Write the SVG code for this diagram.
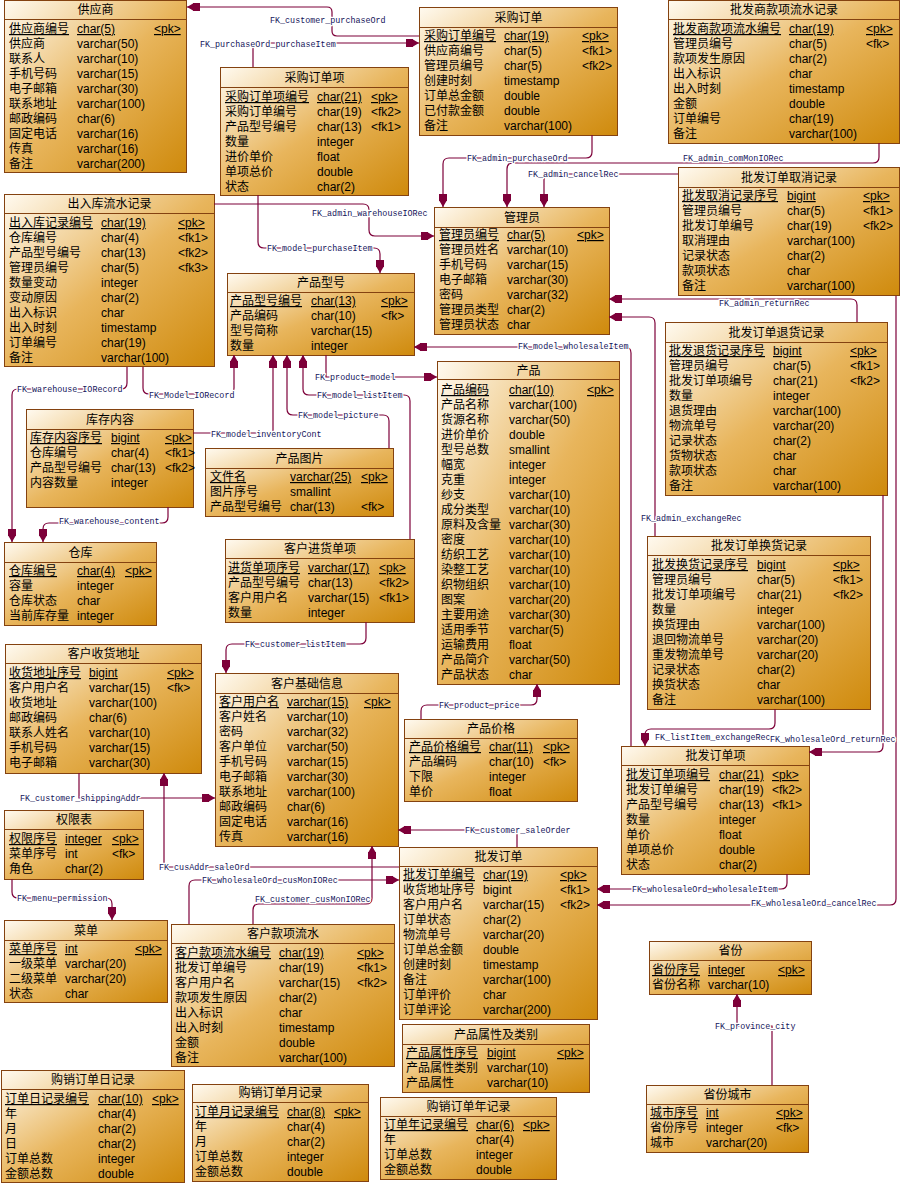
<svg xmlns="http://www.w3.org/2000/svg" width="901" height="1184" viewBox="0 0 901 1184">
<defs>
<linearGradient id="g" x1="0" y1="0" x2="1" y2="1"><stop offset="0" stop-color="#fffaf0"/><stop offset="0.5" stop-color="#e8b55c"/><stop offset="1" stop-color="#cf8a0c"/></linearGradient>
<marker id="a" markerWidth="15" markerHeight="10" viewBox="-14 -5 15 10" refX="0" refY="0" orient="auto" markerUnits="userSpaceOnUse"><path d="M0,0 L-6,-3.5 L-6,-4 L-13,-4 L-13,4 L-6,4 L-6,3.5 Z" fill="#7d0039"/></marker>
<style>
.b{fill:url(#g);stroke:#844210;stroke-width:1}
.s{stroke:#844210;stroke-width:1}
text{font-family:"Liberation Sans","Noto Sans CJK SC",sans-serif;font-size:12px;fill:#000}
.h{text-anchor:middle}
.u{text-decoration:underline}
.c{fill:none;stroke:#7d0039;stroke-width:1.2;marker-end:url(#a)}
.l{font-family:"Liberation Mono",monospace;font-size:8.4px;fill:#14145a;stroke:#fff;stroke-width:2.5px;paint-order:stroke;stroke-linejoin:round}
</style>
</defs>
<rect width="901" height="1184" fill="#fff"/>

<g id="t-gongyingshang">
<rect class="b" x="4.5" y="0.5" width="182" height="172"/><line class="s" x1="4.5" y1="19.5" x2="186.5" y2="19.5"/>
<text class="h" x="95.5" y="14">供应商</text>
<text class="u" y="33"><tspan x="9">供应商编号</tspan><tspan x="77">char(5)</tspan><tspan x="154">&lt;pk&gt;</tspan></text>
<text y="48"><tspan x="9">供应商</tspan><tspan x="77">varchar(50)</tspan></text>
<text y="63"><tspan x="9">联系人</tspan><tspan x="77">varchar(10)</tspan></text>
<text y="78"><tspan x="9">手机号码</tspan><tspan x="77">varchar(15)</tspan></text>
<text y="93"><tspan x="9">电子邮箱</tspan><tspan x="77">varchar(30)</tspan></text>
<text y="108"><tspan x="9">联系地址</tspan><tspan x="77">varchar(100)</tspan></text>
<text y="123"><tspan x="9">邮政编码</tspan><tspan x="77">char(6)</tspan></text>
<text y="138"><tspan x="9">固定电话</tspan><tspan x="77">varchar(16)</tspan></text>
<text y="153"><tspan x="9">传真</tspan><tspan x="77">varchar(16)</tspan></text>
<text y="168"><tspan x="9">备注</tspan><tspan x="77">varchar(200)</tspan></text>
</g>

<g id="t-caigoudingdan">
<rect class="b" x="419.5" y="7.5" width="198" height="128"/><line class="s" x1="419.5" y1="27.5" x2="617.5" y2="27.5"/>
<text class="h" x="518.5" y="22">采购订单</text>
<text class="u" y="40"><tspan x="424">采购订单编号</tspan><tspan x="504">char(19)</tspan><tspan x="582">&lt;pk&gt;</tspan></text>
<text y="55"><tspan x="424">供应商编号</tspan><tspan x="504">char(5)</tspan><tspan x="582">&lt;fk1&gt;</tspan></text>
<text y="70"><tspan x="424">管理员编号</tspan><tspan x="504">char(5)</tspan><tspan x="582">&lt;fk2&gt;</tspan></text>
<text y="85"><tspan x="424">创建时刻</tspan><tspan x="504">timestamp</tspan></text>
<text y="100"><tspan x="424">订单总金额</tspan><tspan x="504">double</tspan></text>
<text y="115"><tspan x="424">已付款金额</tspan><tspan x="504">double</tspan></text>
<text y="130"><tspan x="424">备注</tspan><tspan x="504">varchar(100)</tspan></text>
</g>

<g id="t-caigoudingdanxiang">
<rect class="b" x="220.5" y="67.5" width="188" height="128"/><line class="s" x1="220.5" y1="87.5" x2="408.5" y2="87.5"/>
<text class="h" x="314.5" y="82">采购订单项</text>
<text class="u" y="101"><tspan x="225">采购订单项编号</tspan><tspan x="317">char(21)</tspan><tspan x="371">&lt;pk&gt;</tspan></text>
<text y="116"><tspan x="225">采购订单编号</tspan><tspan x="317">char(19)</tspan><tspan x="371">&lt;fk2&gt;</tspan></text>
<text y="131"><tspan x="225">产品型号编号</tspan><tspan x="317">char(13)</tspan><tspan x="371">&lt;fk1&gt;</tspan></text>
<text y="146"><tspan x="225">数量</tspan><tspan x="317">integer</tspan></text>
<text y="161"><tspan x="225">进价单价</tspan><tspan x="317">float</tspan></text>
<text y="176"><tspan x="225">单项总价</tspan><tspan x="317">double</tspan></text>
<text y="191"><tspan x="225">状态</tspan><tspan x="317">char(2)</tspan></text>
</g>

<g id="t-pifashangkuanxiang">
<rect class="b" x="668.5" y="0.5" width="231" height="143"/><line class="s" x1="668.5" y1="19.5" x2="899.5" y2="19.5"/>
<text class="h" x="784" y="14">批发商款项流水记录</text>
<text class="u" y="33"><tspan x="673">批发商款项流水编号</tspan><tspan x="789">char(19)</tspan><tspan x="866">&lt;pk&gt;</tspan></text>
<text y="48"><tspan x="673">管理员编号</tspan><tspan x="789">char(5)</tspan><tspan x="866">&lt;fk&gt;</tspan></text>
<text y="63"><tspan x="673">款项发生原因</tspan><tspan x="789">char(2)</tspan></text>
<text y="78"><tspan x="673">出入标识</tspan><tspan x="789">char</tspan></text>
<text y="93"><tspan x="673">出入时刻</tspan><tspan x="789">timestamp</tspan></text>
<text y="108"><tspan x="673">金额</tspan><tspan x="789">double</tspan></text>
<text y="123"><tspan x="673">订单编号</tspan><tspan x="789">char(19)</tspan></text>
<text y="138"><tspan x="673">备注</tspan><tspan x="789">varchar(100)</tspan></text>
</g>

<g id="t-quxiaojilu">
<rect class="b" x="678.5" y="167.5" width="221" height="128"/><line class="s" x1="678.5" y1="187.5" x2="899.5" y2="187.5"/>
<text class="h" x="789" y="182">批发订单取消记录</text>
<text class="u" y="200"><tspan x="682">批发取消记录序号</tspan><tspan x="787">bigint</tspan><tspan x="863">&lt;pk&gt;</tspan></text>
<text y="215"><tspan x="682">管理员编号</tspan><tspan x="787">char(5)</tspan><tspan x="863">&lt;fk1&gt;</tspan></text>
<text y="230"><tspan x="682">批发订单编号</tspan><tspan x="787">char(19)</tspan><tspan x="863">&lt;fk2&gt;</tspan></text>
<text y="245"><tspan x="682">取消理由</tspan><tspan x="787">varchar(100)</tspan></text>
<text y="260"><tspan x="682">记录状态</tspan><tspan x="787">char(2)</tspan></text>
<text y="275"><tspan x="682">款项状态</tspan><tspan x="787">char</tspan></text>
<text y="290"><tspan x="682">备注</tspan><tspan x="787">varchar(100)</tspan></text>
</g>

<g id="t-churuku">
<rect class="b" x="4.5" y="194.5" width="210" height="172"/><line class="s" x1="4.5" y1="213.5" x2="214.5" y2="213.5"/>
<text class="h" x="109.5" y="208">出入库流水记录</text>
<text class="u" y="227"><tspan x="9">出入库记录编号</tspan><tspan x="101">char(19)</tspan><tspan x="178">&lt;pk&gt;</tspan></text>
<text y="242"><tspan x="9">仓库编号</tspan><tspan x="101">char(4)</tspan><tspan x="178">&lt;fk1&gt;</tspan></text>
<text y="257"><tspan x="9">产品型号编号</tspan><tspan x="101">char(13)</tspan><tspan x="178">&lt;fk2&gt;</tspan></text>
<text y="272"><tspan x="9">管理员编号</tspan><tspan x="101">char(5)</tspan><tspan x="178">&lt;fk3&gt;</tspan></text>
<text y="287"><tspan x="9">数量变动</tspan><tspan x="101">integer</tspan></text>
<text y="302"><tspan x="9">变动原因</tspan><tspan x="101">char(2)</tspan></text>
<text y="317"><tspan x="9">出入标识</tspan><tspan x="101">char</tspan></text>
<text y="332"><tspan x="9">出入时刻</tspan><tspan x="101">timestamp</tspan></text>
<text y="347"><tspan x="9">订单编号</tspan><tspan x="101">char(19)</tspan></text>
<text y="362"><tspan x="9">备注</tspan><tspan x="101">varchar(100)</tspan></text>
</g>

<g id="t-guanliyuan">
<rect class="b" x="434.5" y="207.5" width="175" height="127"/><line class="s" x1="434.5" y1="227.5" x2="609.5" y2="227.5"/>
<text class="h" x="522" y="222">管理员</text>
<text class="u" y="239"><tspan x="439">管理员编号</tspan><tspan x="507">char(5)</tspan><tspan x="577">&lt;pk&gt;</tspan></text>
<text y="254"><tspan x="439">管理员姓名</tspan><tspan x="507">varchar(10)</tspan></text>
<text y="269"><tspan x="439">手机号码</tspan><tspan x="507">varchar(15)</tspan></text>
<text y="284"><tspan x="439">电子邮箱</tspan><tspan x="507">varchar(30)</tspan></text>
<text y="299"><tspan x="439">密码</tspan><tspan x="507">varchar(32)</tspan></text>
<text y="314"><tspan x="439">管理员类型</tspan><tspan x="507">char(2)</tspan></text>
<text y="329"><tspan x="439">管理员状态</tspan><tspan x="507">char</tspan></text>
</g>

<g id="t-chanpinxinghao">
<rect class="b" x="227.5" y="273.5" width="187" height="82"/><line class="s" x1="227.5" y1="292.5" x2="414.5" y2="292.5"/>
<text class="h" x="321" y="287">产品型号</text>
<text class="u" y="305"><tspan x="230">产品型号编号</tspan><tspan x="311">char(13)</tspan><tspan x="381">&lt;pk&gt;</tspan></text>
<text y="320"><tspan x="230">产品编码</tspan><tspan x="311">char(10)</tspan><tspan x="381">&lt;fk&gt;</tspan></text>
<text y="335"><tspan x="230">型号简称</tspan><tspan x="311">varchar(15)</tspan></text>
<text y="350"><tspan x="230">数量</tspan><tspan x="311">integer</tspan></text>
</g>

<g id="t-chanpin">
<rect class="b" x="437.5" y="361.5" width="182" height="323"/><line class="s" x1="437.5" y1="379.5" x2="619.5" y2="379.5"/>
<text class="h" x="528.5" y="375">产品</text>
<text class="u" y="394"><tspan x="441">产品编码</tspan><tspan x="509">char(10)</tspan><tspan x="587">&lt;pk&gt;</tspan></text>
<text y="409"><tspan x="441">产品名称</tspan><tspan x="509">varchar(100)</tspan></text>
<text y="424"><tspan x="441">货源名称</tspan><tspan x="509">varchar(50)</tspan></text>
<text y="439"><tspan x="441">进价单价</tspan><tspan x="509">double</tspan></text>
<text y="454"><tspan x="441">型号总数</tspan><tspan x="509">smallint</tspan></text>
<text y="469"><tspan x="441">幅宽</tspan><tspan x="509">integer</tspan></text>
<text y="484"><tspan x="441">克重</tspan><tspan x="509">integer</tspan></text>
<text y="499"><tspan x="441">纱支</tspan><tspan x="509">varchar(10)</tspan></text>
<text y="514"><tspan x="441">成分类型</tspan><tspan x="509">varchar(10)</tspan></text>
<text y="529"><tspan x="441">原料及含量</tspan><tspan x="509">varchar(30)</tspan></text>
<text y="544"><tspan x="441">密度</tspan><tspan x="509">varchar(10)</tspan></text>
<text y="559"><tspan x="441">纺织工艺</tspan><tspan x="509">varchar(10)</tspan></text>
<text y="574"><tspan x="441">染整工艺</tspan><tspan x="509">varchar(10)</tspan></text>
<text y="589"><tspan x="441">织物组织</tspan><tspan x="509">varchar(10)</tspan></text>
<text y="604"><tspan x="441">图案</tspan><tspan x="509">varchar(20)</tspan></text>
<text y="619"><tspan x="441">主要用途</tspan><tspan x="509">varchar(30)</tspan></text>
<text y="634"><tspan x="441">适用季节</tspan><tspan x="509">varchar(5)</tspan></text>
<text y="649"><tspan x="441">运输费用</tspan><tspan x="509">float</tspan></text>
<text y="664"><tspan x="441">产品简介</tspan><tspan x="509">varchar(50)</tspan></text>
<text y="679"><tspan x="441">产品状态</tspan><tspan x="509">char</tspan></text>
</g>

<g id="t-kucun">
<rect class="b" x="26.5" y="409.5" width="167" height="98"/><line class="s" x1="26.5" y1="429.5" x2="193.5" y2="429.5"/>
<text class="h" x="110" y="424">库存内容</text>
<text class="u" y="442"><tspan x="30">库存内容序号</tspan><tspan x="111">bigint</tspan><tspan x="165">&lt;pk&gt;</tspan></text>
<text y="457"><tspan x="30">仓库编号</tspan><tspan x="111">char(4)</tspan><tspan x="165">&lt;fk1&gt;</tspan></text>
<text y="472"><tspan x="30">产品型号编号</tspan><tspan x="111">char(13)</tspan><tspan x="165">&lt;fk2&gt;</tspan></text>
<text y="487"><tspan x="30">内容数量</tspan><tspan x="111">integer</tspan></text>
</g>

<g id="t-tupian">
<rect class="b" x="205.5" y="448.5" width="188" height="68"/><line class="s" x1="205.5" y1="468.5" x2="393.5" y2="468.5"/>
<text class="h" x="299.5" y="463">产品图片</text>
<text class="u" y="481"><tspan x="210">文件名</tspan><tspan x="290">varchar(25)</tspan><tspan x="361">&lt;pk&gt;</tspan></text>
<text y="496"><tspan x="210">图片序号</tspan><tspan x="290">smallint</tspan></text>
<text y="511"><tspan x="210">产品型号编号</tspan><tspan x="290">char(13)</tspan><tspan x="361">&lt;fk&gt;</tspan></text>
</g>

<g id="t-cangku">
<rect class="b" x="4.5" y="542.5" width="152" height="83"/><line class="s" x1="4.5" y1="562.5" x2="156.5" y2="562.5"/>
<text class="h" x="80.5" y="557">仓库</text>
<text class="u" y="575"><tspan x="9">仓库编号</tspan><tspan x="77">char(4)</tspan><tspan x="125">&lt;pk&gt;</tspan></text>
<text y="590"><tspan x="9">容量</tspan><tspan x="77">integer</tspan></text>
<text y="605"><tspan x="9">仓库状态</tspan><tspan x="77">char</tspan></text>
<text y="620"><tspan x="9">当前库存量</tspan><tspan x="77">integer</tspan></text>
</g>

<g id="t-jinhuodanxiang">
<rect class="b" x="225.5" y="539.5" width="189" height="83"/><line class="s" x1="225.5" y1="558.5" x2="414.5" y2="558.5"/>
<text class="h" x="320" y="553">客户进货单项</text>
<text class="u" y="572"><tspan x="228">进货单项序号</tspan><tspan x="308">varchar(17)</tspan><tspan x="379">&lt;pk&gt;</tspan></text>
<text y="587"><tspan x="228">产品型号编号</tspan><tspan x="308">char(13)</tspan><tspan x="379">&lt;fk2&gt;</tspan></text>
<text y="602"><tspan x="228">客户用户名</tspan><tspan x="308">varchar(15)</tspan><tspan x="379">&lt;fk1&gt;</tspan></text>
<text y="617"><tspan x="228">数量</tspan><tspan x="308">integer</tspan></text>
</g>

<g id="t-tuihuojilu">
<rect class="b" x="665.5" y="322.5" width="222" height="173"/><line class="s" x1="665.5" y1="342.5" x2="887.5" y2="342.5"/>
<text class="h" x="776.5" y="337">批发订单退货记录</text>
<text class="u" y="355"><tspan x="669">批发退货记录序号</tspan><tspan x="773">bigint</tspan><tspan x="850">&lt;pk&gt;</tspan></text>
<text y="370"><tspan x="669">管理员编号</tspan><tspan x="773">char(5)</tspan><tspan x="850">&lt;fk1&gt;</tspan></text>
<text y="385"><tspan x="669">批发订单项编号</tspan><tspan x="773">char(21)</tspan><tspan x="850">&lt;fk2&gt;</tspan></text>
<text y="400"><tspan x="669">数量</tspan><tspan x="773">integer</tspan></text>
<text y="415"><tspan x="669">退货理由</tspan><tspan x="773">varchar(100)</tspan></text>
<text y="430"><tspan x="669">物流单号</tspan><tspan x="773">varchar(20)</tspan></text>
<text y="445"><tspan x="669">记录状态</tspan><tspan x="773">char(2)</tspan></text>
<text y="460"><tspan x="669">货物状态</tspan><tspan x="773">char</tspan></text>
<text y="475"><tspan x="669">款项状态</tspan><tspan x="773">char</tspan></text>
<text y="490"><tspan x="669">备注</tspan><tspan x="773">varchar(100)</tspan></text>
</g>

<g id="t-huanhuojilu">
<rect class="b" x="647.5" y="536.5" width="223" height="173"/><line class="s" x1="647.5" y1="555.5" x2="870.5" y2="555.5"/>
<text class="h" x="759" y="550">批发订单换货记录</text>
<text class="u" y="569"><tspan x="652">批发换货记录序号</tspan><tspan x="757">bigint</tspan><tspan x="833">&lt;pk&gt;</tspan></text>
<text y="584"><tspan x="652">管理员编号</tspan><tspan x="757">char(5)</tspan><tspan x="833">&lt;fk1&gt;</tspan></text>
<text y="599"><tspan x="652">批发订单项编号</tspan><tspan x="757">char(21)</tspan><tspan x="833">&lt;fk2&gt;</tspan></text>
<text y="614"><tspan x="652">数量</tspan><tspan x="757">integer</tspan></text>
<text y="629"><tspan x="652">换货理由</tspan><tspan x="757">varchar(100)</tspan></text>
<text y="644"><tspan x="652">退回物流单号</tspan><tspan x="757">varchar(20)</tspan></text>
<text y="659"><tspan x="652">重发物流单号</tspan><tspan x="757">varchar(20)</tspan></text>
<text y="674"><tspan x="652">记录状态</tspan><tspan x="757">char(2)</tspan></text>
<text y="689"><tspan x="652">换货状态</tspan><tspan x="757">char</tspan></text>
<text y="704"><tspan x="652">备注</tspan><tspan x="757">varchar(100)</tspan></text>
</g>

<g id="t-shouhuodizhi">
<rect class="b" x="5.5" y="644.5" width="196" height="129"/><line class="s" x1="5.5" y1="663.5" x2="201.5" y2="663.5"/>
<text class="h" x="103.5" y="658">客户收货地址</text>
<text class="u" y="677"><tspan x="9">收货地址序号</tspan><tspan x="89">bigint</tspan><tspan x="167">&lt;pk&gt;</tspan></text>
<text y="692"><tspan x="9">客户用户名</tspan><tspan x="89">varchar(15)</tspan><tspan x="167">&lt;fk&gt;</tspan></text>
<text y="707"><tspan x="9">收货地址</tspan><tspan x="89">varchar(100)</tspan></text>
<text y="722"><tspan x="9">邮政编码</tspan><tspan x="89">char(6)</tspan></text>
<text y="737"><tspan x="9">联系人姓名</tspan><tspan x="89">varchar(10)</tspan></text>
<text y="752"><tspan x="9">手机号码</tspan><tspan x="89">varchar(15)</tspan></text>
<text y="767"><tspan x="9">电子邮箱</tspan><tspan x="89">varchar(30)</tspan></text>
</g>

<g id="t-kehu">
<rect class="b" x="215.5" y="673.5" width="183" height="173"/><line class="s" x1="215.5" y1="693.5" x2="398.5" y2="693.5"/>
<text class="h" x="307" y="688">客户基础信息</text>
<text class="u" y="706"><tspan x="219">客户用户名</tspan><tspan x="287">varchar(15)</tspan><tspan x="364">&lt;pk&gt;</tspan></text>
<text y="721"><tspan x="219">客户姓名</tspan><tspan x="287">varchar(10)</tspan></text>
<text y="736"><tspan x="219">密码</tspan><tspan x="287">varchar(32)</tspan></text>
<text y="751"><tspan x="219">客户单位</tspan><tspan x="287">varchar(50)</tspan></text>
<text y="766"><tspan x="219">手机号码</tspan><tspan x="287">varchar(15)</tspan></text>
<text y="781"><tspan x="219">电子邮箱</tspan><tspan x="287">varchar(30)</tspan></text>
<text y="796"><tspan x="219">联系地址</tspan><tspan x="287">varchar(100)</tspan></text>
<text y="811"><tspan x="219">邮政编码</tspan><tspan x="287">char(6)</tspan></text>
<text y="826"><tspan x="219">固定电话</tspan><tspan x="287">varchar(16)</tspan></text>
<text y="841"><tspan x="219">传真</tspan><tspan x="287">varchar(16)</tspan></text>
</g>

<g id="t-jiage">
<rect class="b" x="404.5" y="719.5" width="173" height="82"/><line class="s" x1="404.5" y1="738.5" x2="577.5" y2="738.5"/>
<text class="h" x="491" y="733">产品价格</text>
<text class="u" y="751"><tspan x="409">产品价格编号</tspan><tspan x="489">char(11)</tspan><tspan x="543">&lt;pk&gt;</tspan></text>
<text y="766"><tspan x="409">产品编码</tspan><tspan x="489">char(10)</tspan><tspan x="543">&lt;fk&gt;</tspan></text>
<text y="781"><tspan x="409">下限</tspan><tspan x="489">integer</tspan></text>
<text y="796"><tspan x="409">单价</tspan><tspan x="489">float</tspan></text>
</g>

<g id="t-pifadingdanxiang">
<rect class="b" x="621.5" y="746.5" width="188" height="128"/><line class="s" x1="621.5" y1="765.5" x2="809.5" y2="765.5"/>
<text class="h" x="715.5" y="760">批发订单项</text>
<text class="u" y="779"><tspan x="626">批发订单项编号</tspan><tspan x="719">char(21)</tspan><tspan x="772">&lt;pk&gt;</tspan></text>
<text y="794"><tspan x="626">批发订单编号</tspan><tspan x="719">char(19)</tspan><tspan x="772">&lt;fk2&gt;</tspan></text>
<text y="809"><tspan x="626">产品型号编号</tspan><tspan x="719">char(13)</tspan><tspan x="772">&lt;fk1&gt;</tspan></text>
<text y="824"><tspan x="626">数量</tspan><tspan x="719">integer</tspan></text>
<text y="839"><tspan x="626">单价</tspan><tspan x="719">float</tspan></text>
<text y="854"><tspan x="626">单项总价</tspan><tspan x="719">double</tspan></text>
<text y="869"><tspan x="626">状态</tspan><tspan x="719">char(2)</tspan></text>
</g>

<g id="t-quanxian">
<rect class="b" x="4.5" y="810.5" width="139" height="69"/><line class="s" x1="4.5" y1="829.5" x2="143.5" y2="829.5"/>
<text class="h" x="74" y="824">权限表</text>
<text class="u" y="843"><tspan x="9">权限序号</tspan><tspan x="65">integer</tspan><tspan x="112">&lt;pk&gt;</tspan></text>
<text y="858"><tspan x="9">菜单序号</tspan><tspan x="65">int</tspan><tspan x="112">&lt;fk&gt;</tspan></text>
<text y="873"><tspan x="9">角色</tspan><tspan x="65">char(2)</tspan></text>
</g>

<g id="t-pifadingdan">
<rect class="b" x="399.5" y="847.5" width="198" height="172"/><line class="s" x1="399.5" y1="866.5" x2="597.5" y2="866.5"/>
<text class="h" x="498.5" y="861">批发订单</text>
<text class="u" y="879"><tspan x="403">批发订单编号</tspan><tspan x="483">char(19)</tspan><tspan x="560">&lt;pk&gt;</tspan></text>
<text y="894"><tspan x="403">收货地址序号</tspan><tspan x="483">bigint</tspan><tspan x="560">&lt;fk1&gt;</tspan></text>
<text y="909"><tspan x="403">客户用户名</tspan><tspan x="483">varchar(15)</tspan><tspan x="560">&lt;fk2&gt;</tspan></text>
<text y="924"><tspan x="403">订单状态</tspan><tspan x="483">char(2)</tspan></text>
<text y="939"><tspan x="403">物流单号</tspan><tspan x="483">varchar(20)</tspan></text>
<text y="954"><tspan x="403">订单总金额</tspan><tspan x="483">double</tspan></text>
<text y="969"><tspan x="403">创建时刻</tspan><tspan x="483">timestamp</tspan></text>
<text y="984"><tspan x="403">备注</tspan><tspan x="483">varchar(100)</tspan></text>
<text y="999"><tspan x="403">订单评价</tspan><tspan x="483">char</tspan></text>
<text y="1014"><tspan x="403">订单评论</tspan><tspan x="483">varchar(200)</tspan></text>
</g>

<g id="t-caidan">
<rect class="b" x="4.5" y="920.5" width="163" height="82"/><line class="s" x1="4.5" y1="940.5" x2="167.5" y2="940.5"/>
<text class="h" x="86" y="935">菜单</text>
<text class="u" y="953"><tspan x="9">菜单序号</tspan><tspan x="65">int</tspan><tspan x="135">&lt;pk&gt;</tspan></text>
<text y="968"><tspan x="9">一级菜单</tspan><tspan x="65">varchar(20)</tspan></text>
<text y="983"><tspan x="9">二级菜单</tspan><tspan x="65">varchar(20)</tspan></text>
<text y="998"><tspan x="9">状态</tspan><tspan x="65">char</tspan></text>
</g>

<g id="t-kehukuanxiang">
<rect class="b" x="171.5" y="924.5" width="223" height="142"/><line class="s" x1="171.5" y1="943.5" x2="394.5" y2="943.5"/>
<text class="h" x="283" y="938">客户款项流水</text>
<text class="u" y="957"><tspan x="175">客户款项流水编号</tspan><tspan x="279">char(19)</tspan><tspan x="357">&lt;pk&gt;</tspan></text>
<text y="972"><tspan x="175">批发订单编号</tspan><tspan x="279">char(19)</tspan><tspan x="357">&lt;fk1&gt;</tspan></text>
<text y="987"><tspan x="175">客户用户名</tspan><tspan x="279">varchar(15)</tspan><tspan x="357">&lt;fk2&gt;</tspan></text>
<text y="1002"><tspan x="175">款项发生原因</tspan><tspan x="279">char(2)</tspan></text>
<text y="1017"><tspan x="175">出入标识</tspan><tspan x="279">char</tspan></text>
<text y="1032"><tspan x="175">出入时刻</tspan><tspan x="279">timestamp</tspan></text>
<text y="1047"><tspan x="175">金额</tspan><tspan x="279">double</tspan></text>
<text y="1062"><tspan x="175">备注</tspan><tspan x="279">varchar(100)</tspan></text>
</g>

<g id="t-shuxing">
<rect class="b" x="402.5" y="1024.5" width="187" height="68"/><line class="s" x1="402.5" y1="1044.5" x2="589.5" y2="1044.5"/>
<text class="h" x="496" y="1039">产品属性及类别</text>
<text class="u" y="1057"><tspan x="406">产品属性序号</tspan><tspan x="487">bigint</tspan><tspan x="557">&lt;pk&gt;</tspan></text>
<text y="1072"><tspan x="406">产品属性类别</tspan><tspan x="487">varchar(10)</tspan></text>
<text y="1087"><tspan x="406">产品属性</tspan><tspan x="487">varchar(10)</tspan></text>
</g>

<g id="t-rijilu">
<rect class="b" x="1.5" y="1070.5" width="183" height="112"/><line class="s" x1="1.5" y1="1089.5" x2="184.5" y2="1089.5"/>
<text class="h" x="93" y="1084">购销订单日记录</text>
<text class="u" y="1103"><tspan x="5">订单日记录编号</tspan><tspan x="98">char(10)</tspan><tspan x="152">&lt;pk&gt;</tspan></text>
<text y="1118"><tspan x="5">年</tspan><tspan x="98">char(4)</tspan></text>
<text y="1133"><tspan x="5">月</tspan><tspan x="98">char(2)</tspan></text>
<text y="1148"><tspan x="5">日</tspan><tspan x="98">char(2)</tspan></text>
<text y="1163"><tspan x="5">订单总数</tspan><tspan x="98">integer</tspan></text>
<text y="1178"><tspan x="5">金额总数</tspan><tspan x="98">double</tspan></text>
</g>

<g id="t-yuejilu">
<rect class="b" x="192.5" y="1084.5" width="176" height="97"/><line class="s" x1="192.5" y1="1102.5" x2="368.5" y2="1102.5"/>
<text class="h" x="280.5" y="1097">购销订单月记录</text>
<text class="u" y="1116"><tspan x="195">订单月记录编号</tspan><tspan x="287">char(8)</tspan><tspan x="334">&lt;pk&gt;</tspan></text>
<text y="1131"><tspan x="195">年</tspan><tspan x="287">char(4)</tspan></text>
<text y="1146"><tspan x="195">月</tspan><tspan x="287">char(2)</tspan></text>
<text y="1161"><tspan x="195">订单总数</tspan><tspan x="287">integer</tspan></text>
<text y="1176"><tspan x="195">金额总数</tspan><tspan x="287">double</tspan></text>
</g>

<g id="t-nianjilu">
<rect class="b" x="380.5" y="1097.5" width="176" height="82"/><line class="s" x1="380.5" y1="1116.5" x2="556.5" y2="1116.5"/>
<text class="h" x="468.5" y="1111">购销订单年记录</text>
<text class="u" y="1129"><tspan x="384">订单年记录编号</tspan><tspan x="476">char(6)</tspan><tspan x="523">&lt;pk&gt;</tspan></text>
<text y="1144"><tspan x="384">年</tspan><tspan x="476">char(4)</tspan></text>
<text y="1159"><tspan x="384">订单总数</tspan><tspan x="476">integer</tspan></text>
<text y="1174"><tspan x="384">金额总数</tspan><tspan x="476">double</tspan></text>
</g>

<g id="t-shengfen">
<rect class="b" x="649.5" y="941.5" width="162" height="53"/><line class="s" x1="649.5" y1="960.5" x2="811.5" y2="960.5"/>
<text class="h" x="730.5" y="955">省份</text>
<text class="u" y="974"><tspan x="652">省份序号</tspan><tspan x="708">integer</tspan><tspan x="778">&lt;pk&gt;</tspan></text>
<text y="989"><tspan x="652">省份名称</tspan><tspan x="708">varchar(10)</tspan></text>
</g>

<g id="t-chengshi">
<rect class="b" x="646.5" y="1085.5" width="162" height="67"/><line class="s" x1="646.5" y1="1104.5" x2="808.5" y2="1104.5"/>
<text class="h" x="727.5" y="1099">省份城市</text>
<text class="u" y="1117"><tspan x="650">城市序号</tspan><tspan x="706">int</tspan><tspan x="776">&lt;pk&gt;</tspan></text>
<text y="1132"><tspan x="650">省份序号</tspan><tspan x="706">integer</tspan><tspan x="776">&lt;fk&gt;</tspan></text>
<text y="1147"><tspan x="650">城市</tspan><tspan x="706">varchar(20)</tspan></text>
</g>

<g id="connectors">
<path class="c" d="M419,36 H337 Q332,36 332,31 V12 Q332,7 327,7 H187"/>
<path class="c" d="M253,67 V43 H419"/>
<path class="c" d="M592,135 V152 Q592,158 586,158 H449 Q443,158 443,164 V207"/>
<path class="c" d="M678,174 H550 Q544,174 544,180 V207"/>
<path class="c" d="M879,143 V157 Q879,163 873,163 H513 Q507,163 507,169 V207"/>
<path class="c" d="M214,204 H363 Q369,204 369,210 V230 Q369,236 375,236 H434"/>
<path class="c" d="M258,195 V242 Q258,248 264,248 H374 Q380,248 380,254 V273"/>
<path class="c" d="M127,367 V383 Q127,389 121,389 H18 Q12,389 12,395 V542"/>
<path class="c" d="M143,367 V388 Q143,394 149,394 H228 Q234,394 234,388 V355"/>
<path class="c" d="M193,433 H273 V355"/>
<path class="c" d="M389,448 V421 Q389,415 383,415 H293 Q287,415 287,409 V355"/>
<path class="c" d="M410,539 V401 Q410,395 404,395 H309 Q303,395 303,389 V355"/>
<path class="c" d="M326,355 V377 H437"/>
<path class="c" d="M631,746 V353 Q631,347 625,347 H414"/>
<path class="c" d="M857,322 V305 Q857,299 851,299 H609"/>
<path class="c" d="M655,536 V323 Q655,317 649,317 H609"/>
<path class="c" d="M168,507 V517 Q168,523 162,523 H49 Q43,523 43,529 V542"/>
<path class="c" d="M366,622 V638 Q366,644 360,644 H232 Q226,644 226,650 V673"/>
<path class="c" d="M79,773 V798 H215"/>
<path class="c" d="M399,867 H164 V773"/>
<path class="c" d="M189,924 V886 Q189,880 195,880 H399"/>
<path class="c" d="M253,924 V910 Q253,904 259,904 H366 Q372,904 372,898 V846"/>
<path class="c" d="M517,847 V830 H398"/>
<path class="c" d="M421,719 V711 Q421,705 427,705 H531 Q537,705 537,699 V684"/>
<path class="c" d="M775,709 V723 Q775,729 769,729 H651 Q645,729 645,735 V746"/>
<path class="c" d="M883,495 V746 Q883,752 877,752 H809"/>
<path class="c" d="M787,874 V883 Q787,889 781,889 H597"/>
<path class="c" d="M896,296 V899 Q896,905 890,905 H597"/>
<path class="c" d="M12,879 V892 Q12,898 18,898 H106 Q112,898 112,904 V920"/>
<path class="c" d="M772,1085 V1026 H737 V994"/>
<text class="l" x="270" y="23">FK_customer_purchaseOrd</text>
<text class="l" x="200" y="47">FK_purchaseOrd_purchaseItem</text>
<text class="l" x="467" y="161">FK_admin_purchaseOrd</text>
<text class="l" x="528" y="177">FK_admin_cancelRec</text>
<text class="l" x="683" y="161">FK_admin_comMonIORec</text>
<text class="l" x="312" y="216">FK_admin_warehouseIORec</text>
<text class="l" x="267" y="251">FK_model_purchaseItem</text>
<text class="l" x="17" y="392">FK_warehouse_IORecord</text>
<text class="l" x="149" y="398">FK_Model_IORecord</text>
<text class="l" x="211" y="437">FK_model_inventoryCont</text>
<text class="l" x="298" y="418">FK_model_picture</text>
<text class="l" x="317" y="398">FK_model_listItem</text>
<text class="l" x="315" y="380">FK_product_model</text>
<text class="l" x="518" y="349">FK_model_wholesaleItem</text>
<text class="l" x="719" y="306">FK_admin_returnRec</text>
<text class="l" x="641" y="521">FK_admin_exchangeRec</text>
<text class="l" x="59" y="524">FK_warehouse_content</text>
<text class="l" x="245" y="647">FK_customer_listItem</text>
<text class="l" x="20" y="801">FK_customer_shippingAddr</text>
<text class="l" x="159" y="870">FK_cusAddr_saleOrd</text>
<text class="l" x="202" y="883">FK_wholesaleOrd_cusMonIORec</text>
<text class="l" x="255" y="902">FK_customer_cusMonIORec</text>
<text class="l" x="465" y="833">FK_customer_saleOrder</text>
<text class="l" x="439" y="708">FK_product_price</text>
<text class="l" x="655" y="740">FK_listItem_exchangeRec</text>
<text class="l" x="770" y="742">FK_wholesaleOrd_returnRec</text>
<text class="l" x="632" y="892">FK_wholesaleOrd_wholesaleItem</text>
<text class="l" x="751" y="906">FK_wholesaleOrd_cancelRec</text>
<text class="l" x="17" y="901">FK_menu_permission</text>
<text class="l" x="715" y="1029">FK_province_city</text>
</g>
</svg>
